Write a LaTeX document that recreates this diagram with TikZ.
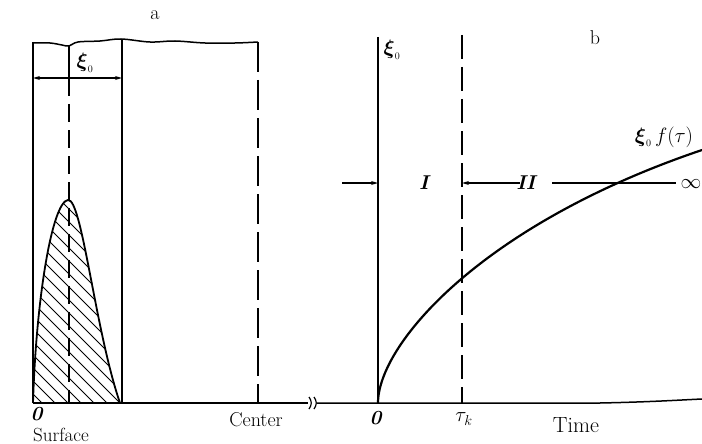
\documentclass[tikz,border=0pt]{standalone}
\usepackage{amsmath}
\usetikzlibrary{arrows.meta}
\begin{document}
\begin{tikzpicture}[x=1pt,y=-1pt,
  ln/.style={line width=1.5pt},
  dsh/.style={line width=1.4pt,dash pattern=on 20pt off 8pt},
  arr/.style={line width=1.2pt,-{Stealth[length=7pt,width=4pt]}},
  lbl/.style={font=\fontsize{20}{22}\selectfont,inner sep=0pt},
  sml/.style={font=\fontsize{20}{22}\selectfont,inner sep=0pt}]
\useasboundingbox (0,0) rectangle (702,444);
% ---------- panel a ----------
\coordinate (aTL) at (33,42);
\coordinate (aBL) at (33,403);
\coordinate (sT) at (122,40);
\coordinate (sB) at (122,403);
\coordinate (mT) at (69,46);
\coordinate (mA) at (69,78);
\coordinate (mB) at (69,403);
\coordinate (cT) at (258,42);
\coordinate (cB) at (258,403);
\coordinate (brL) at (308,403);
\coordinate (brR) at (317,403);
% hatched hump
\begin{scope}
\clip (33,403) .. controls (36,300) and (52,202) .. (68,200)
      .. controls (82,198) and (95,330) .. (120,403) -- cycle;
\foreach \c in {-200,-187,...,120}
  \draw[line width=0.9pt] (\c,200) -- ++(215,215);
\end{scope}
\draw[line width=1.8pt] (33,403) .. controls (36,300) and (52,202) .. (68,200)
      .. controls (82,198) and (95,330) .. (120,403);
% wavy top
\draw[ln] plot[smooth,tension=0.6] coordinates {(33,43) (50,43) (62,45) (69,46) (78,42) (100,41) (121,39) (150,42) (175,41) (205,43) (235,43) (258,42)};
\draw[ln] (aTL) -- (aBL);
\draw[ln] (sT) -- (sB);
\draw[ln] (mT) -- (mA);
\draw[dsh,dash pattern=on 18pt off 8pt] (mA) -- (mB);
\draw[dsh,dash pattern=on 30pt off 8pt] (cT) -- (cB);
\draw[line width=1.2pt,{Stealth[length=7pt,width=4pt]}-{Stealth[length=7pt,width=4pt]}] (33,78) -- (122,78);
\node[sml] (xi1) at (85,63) {$\boldsymbol{\xi}_{\scriptscriptstyle 0}$};
\node[lbl] (la) at (155,15) {a};
% baseline with break
\draw[ln] (aBL) -- (brL);
\draw[line width=1.2pt] (309,397) .. controls (312,401) and (312,405) .. (309,409);
\draw[line width=1.2pt] (314,397) .. controls (317,401) and (317,405) .. (314,409);
\draw[ln] (brR) -- (600,403) .. controls (650,402) and (680,400) .. (702,399);
\node[lbl] (z1) at (37,414) {\textbf{\textit{0}}};
\node[lbl,font=\fontsize{19}{21}\selectfont] (surf) at (61,435) {Surface};
\node[lbl] (cen) at (256,420) {Center};
% ---------- panel b ----------
\coordinate (vT) at (378,37);
\coordinate (vB) at (378,403);
\coordinate (kT) at (462,35);
\coordinate (kB) at (462,403);
\draw[ln] (vT) -- (vB);
\draw[dsh,dash pattern=on 24pt off 8pt] (kT) -- (kB);
\node[sml] (xi2) at (392,50) {$\boldsymbol{\xi}_{\scriptscriptstyle 0}$};
\node[lbl] (lb) at (595,38) {b};
\coordinate (a1) at (342,183);
\coordinate (a2) at (520,183);
\coordinate (h1) at (552,183);
\coordinate (h2) at (676,183);
\draw[arr] (a1) -- (378,183);
\draw[arr] (a2) -- (462,183);
\draw[line width=1.2pt] (h1) -- (h2);
\node[lbl] (r1) at (425,183) {\textbf{\textit{I}}};
\node[lbl] (r2) at (527,183) {\textbf{\textit{II}}};
\node[lbl] (inf) at (691,184) {$\infty$};
\draw[line width=2.2pt] (378,403) .. controls (378,345) and (480,225) .. (702,150);
\node[lbl] (lf) at (664,137) {$\boldsymbol{\xi}_{\scriptscriptstyle 0}\, f(\tau)$};
\node[lbl] (z2) at (376,418) {\textbf{\textit{0}}};
\node[lbl] (tk) at (464,419) {$\tau_k$};
\node[lbl,font=\fontsize{22}{24}\selectfont] (tm) at (576,425) {Time};
\end{tikzpicture}
\end{document}
